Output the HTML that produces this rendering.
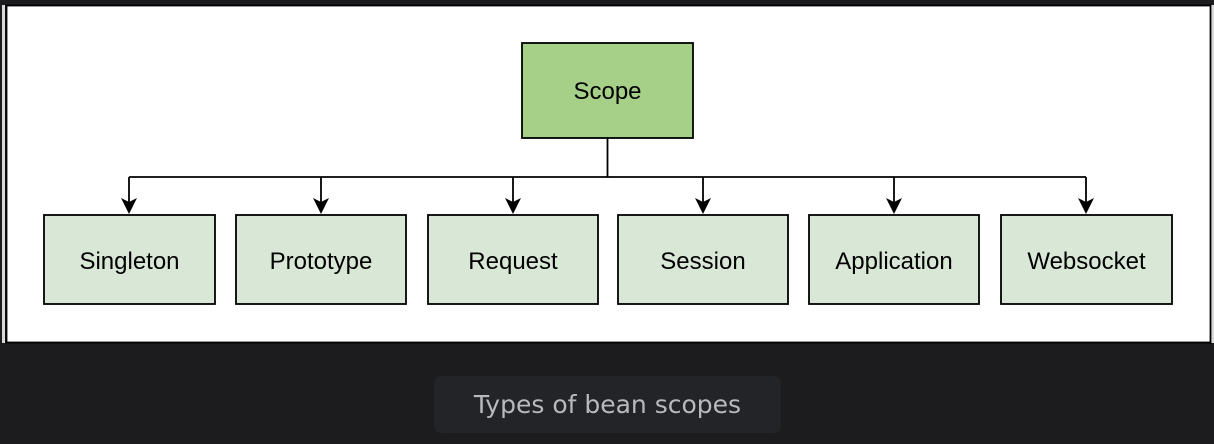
<!DOCTYPE html>
<html><head><style>
html,body{margin:0;padding:0;width:1214px;height:444px;background:#1c1c1e;overflow:hidden}
.cap{position:absolute;left:434px;top:376px;width:347px;height:57px;background:#232427;border-radius:7px;color:#b8b9bc;font:25px "DejaVu Sans","Liberation Sans",sans-serif;text-align:center;line-height:57px}
</style></head><body>
<svg width="1214" height="444" style="position:absolute;left:0;top:0">
<rect x="2" y="5" width="3" height="338" fill="#d8d8d8"/>
<rect x="1211" y="5" width="3" height="338" fill="#d8d8d8"/>
<rect x="6.5" y="5.5" width="1204" height="337" fill="#fff" stroke="#000" stroke-width="1.8"/>
<g stroke="#000" stroke-width="1.8" fill="none">
<line x1="607.5" y1="138" x2="607.5" y2="177"/>
<line x1="129" y1="177" x2="1086" y2="177"/>
<line x1="129" y1="177" x2="129" y2="205"/>
<line x1="321" y1="177" x2="321" y2="205"/>
<line x1="513" y1="177" x2="513" y2="205"/>
<line x1="703" y1="177" x2="703" y2="205"/>
<line x1="894" y1="177" x2="894" y2="205"/>
<line x1="1086" y1="177" x2="1086" y2="205"/>
</g>
<g fill="#000">
<path d="M129 214 L121 198 L129 202 L137 198Z"/>
<path d="M321 214 L313 198 L321 202 L329 198Z"/>
<path d="M513 214 L505 198 L513 202 L521 198Z"/>
<path d="M703 214 L695 198 L703 202 L711 198Z"/>
<path d="M894 214 L886 198 L894 202 L902 198Z"/>
<path d="M1086 214 L1078 198 L1086 202 L1094 198Z"/>
</g>
<rect x="522" y="43" width="171" height="95" fill="#a6d087" stroke="#000" stroke-width="1.8"/>
<g fill="#d9e8d6" stroke="#000" stroke-width="1.8">
<rect x="44" y="215" width="171" height="89"/>
<rect x="236" y="215" width="170" height="89"/>
<rect x="428" y="215" width="170" height="89"/>
<rect x="618" y="215" width="170" height="89"/>
<rect x="809" y="215" width="170" height="89"/>
<rect x="1001" y="215" width="171" height="89"/>
</g>
<g font-family="Liberation Sans, sans-serif" font-size="24" text-anchor="middle" fill="#000">
<text x="607.5" y="99">Scope</text>
<text x="129.5" y="269">Singleton</text>
<text x="321" y="269">Prototype</text>
<text x="513" y="269">Request</text>
<text x="703" y="269">Session</text>
<text x="894" y="269">Application</text>
<text x="1086.5" y="269">Websocket</text>
</g>
</svg>
<div class="cap">Types of bean scopes</div>
</body></html>
